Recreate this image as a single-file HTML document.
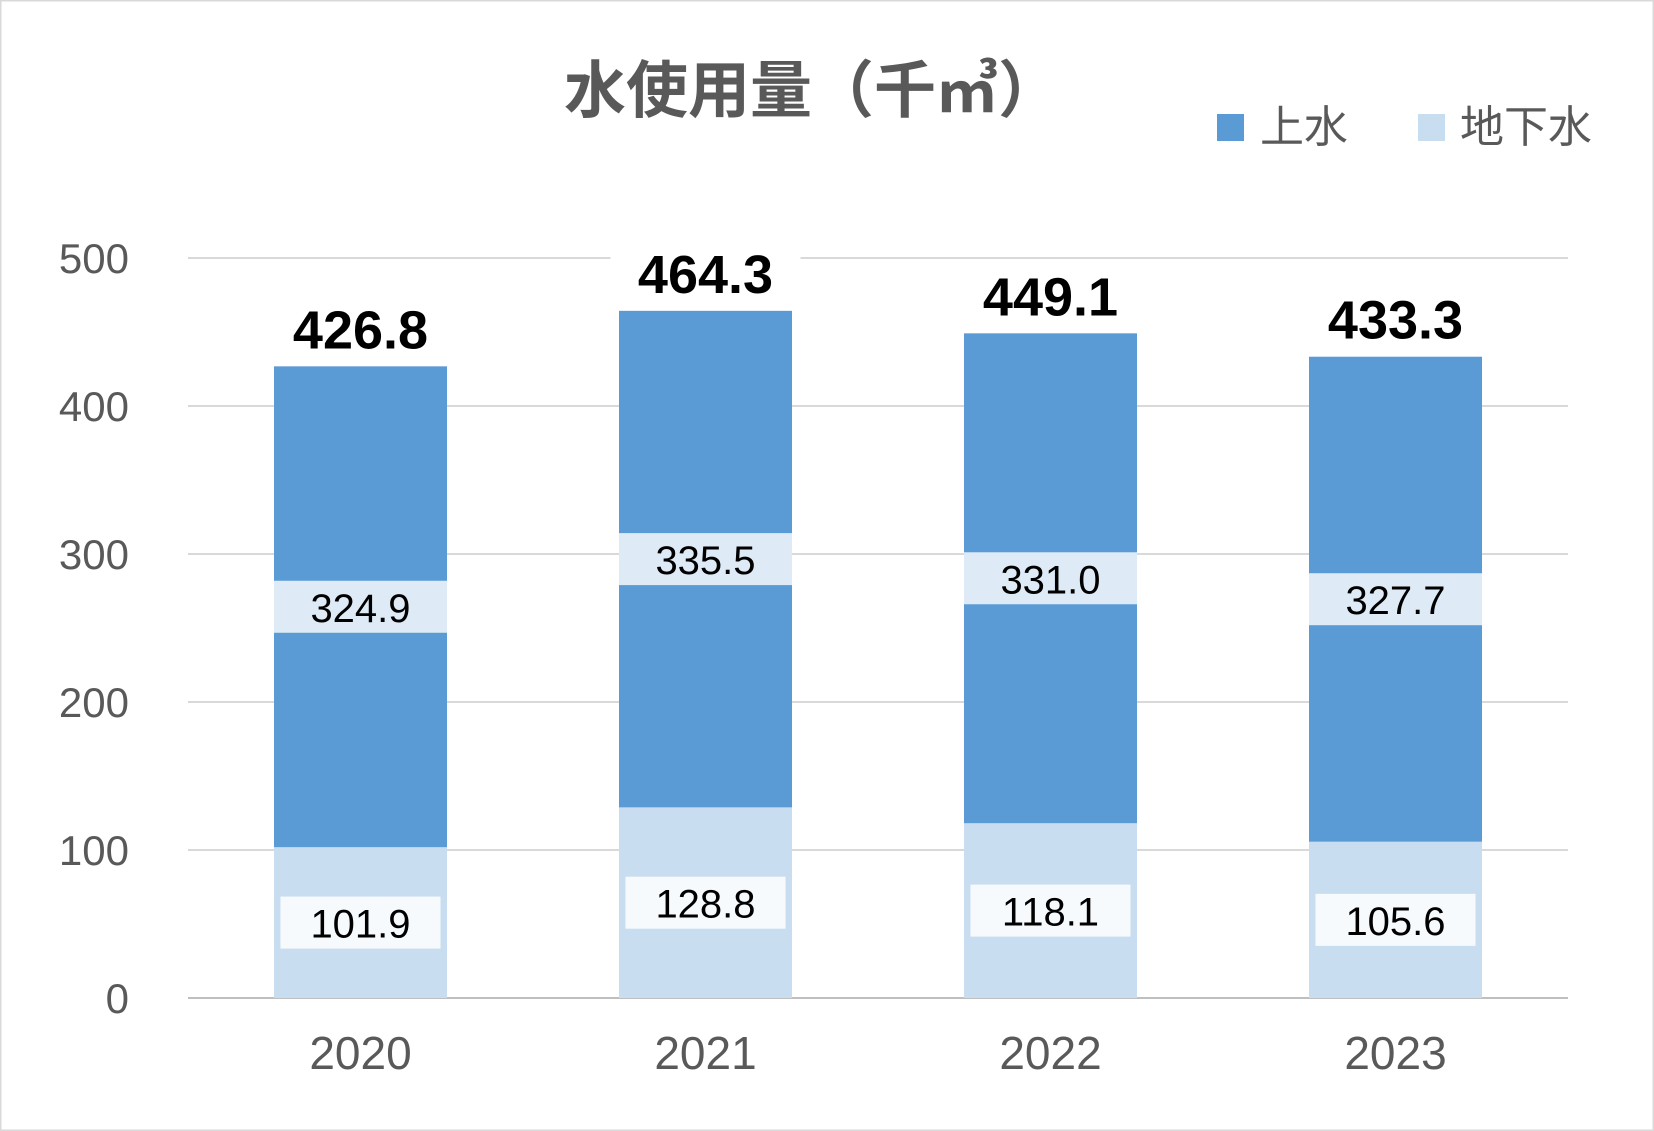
<!DOCTYPE html>
<html><head><meta charset="utf-8"><style>
html,body{margin:0;padding:0;background:#fff}
svg{display:block}
text{font-family:"Liberation Sans","Noto Sans CJK JP",sans-serif}
</style></head><body>
<svg id="chart" width="1654" height="1131" viewBox="0 0 1654 1131" xmlns="http://www.w3.org/2000/svg">
<rect x="0.5" y="0.5" width="1653" height="1130" fill="#fff" stroke="#d9d9d9" stroke-width="2"/>
<text x="812" y="112" text-anchor="middle" font-size="62" font-weight="bold" fill="#595959" font-family="'Noto Sans CJK JP',sans-serif">水使用量（千㎥）</text>
<g>
<rect x="1217" y="114" width="27" height="27" fill="#5b9bd5"/>
<text x="1260" y="142" font-size="44" fill="#595959">上水</text>
<rect x="1418" y="114" width="27" height="27" fill="#c9ddf0"/>
<text x="1460" y="142" font-size="44" fill="#595959">地下水</text>
</g>
<g id="grid"></g><g id="bars"></g><g id="labels"></g>
</svg>
<script>
const categories = ["2020","2021","2022","2023"];
const groundwater = [101.9,128.8,118.1,105.6];
const tapwater = [324.9,335.5,331.0,327.7];
const totals = [426.8,464.3,449.1,433.3];
const yTicks = [0,100,200,300,400,500];

const NS="http://www.w3.org/2000/svg";
const plotL=188, plotR=1568, y0=998, y500=258;
function y(v){return y0-(v/500)*(y0-y500);}
const band=(plotR-plotL)/categories.length, bw=173;
function xc(i){return plotL+band*(i+0.5);}
function mk(tag,attrs,parent,txt){const e=document.createElementNS(NS,tag);for(const k in attrs)e.setAttribute(k,attrs[k]);if(txt!==undefined)e.textContent=txt;parent.appendChild(e);return e;}
const grid=document.getElementById('grid'),bars=document.getElementById('bars'),labels=document.getElementById('labels');

yTicks.forEach(t=>{
  const l=mk('line',{x1:plotL,x2:plotR,y1:y(t),y2:y(t),stroke:t===0?'#bfbfbf':'#d9d9d9','stroke-width':2},grid);
  
  
  const tx=mk('text',{x:129,y:y(t)+15,'text-anchor':'end','font-size':42,fill:'#595959'},grid,String(t));
  
  
});

categories.forEach((c,i)=>{
  const cx=xc(i), g=groundwater[i], w=tapwater[i]-g;
  const r1=mk('rect',{x:cx-bw/2,y:y(g),width:bw,height:y0-y(g),fill:'#c9ddf0'},bars);
  
  
  const r2=mk('rect',{x:cx-bw/2,y:y(tapwater[i]+0)-(y(g)-y(g)),width:bw,height:0,fill:'#5b9bd5'},bars);
  r2.setAttribute('y',y(totals[i]));
  r2.setAttribute('height',y(g)-y(totals[i]));
  
  

  const gm=y(g/2);
  const b1=mk('rect',{x:cx-80,y:gm-26,width:160,height:52,fill:'#ffffff','fill-opacity':0.85},labels);
  
  
  const t1=mk('text',{x:cx,y:gm+15,'text-anchor':'middle','font-size':40,fill:'#000'},labels,groundwater[i].toFixed(1));
  
  

  const tm=y((g+totals[i])/2);
  const b2=mk('rect',{x:cx-bw/2,y:tm-26,width:bw,height:52,fill:'#ffffff','fill-opacity':0.8},labels);
  
  
  const t2=mk('text',{x:cx,y:tm+15,'text-anchor':'middle','font-size':40,fill:'#000'},labels,tapwater[i].toFixed(1));
  
  

  const ty=y(totals[i])-37;
  const b3=mk('rect',{x:cx-95,y:ty-30,width:190,height:60,fill:'#fff'},labels);
  
  
  const t3=mk('text',{x:cx,y:ty+19,'text-anchor':'middle','font-size':54,'font-weight':'bold',fill:'#000'},labels,totals[i].toFixed(1));
  
  

  const xl=mk('text',{x:cx,y:1069,'text-anchor':'middle','font-size':46,fill:'#595959'},labels,c);
  
  
});
</script>
</body></html>
